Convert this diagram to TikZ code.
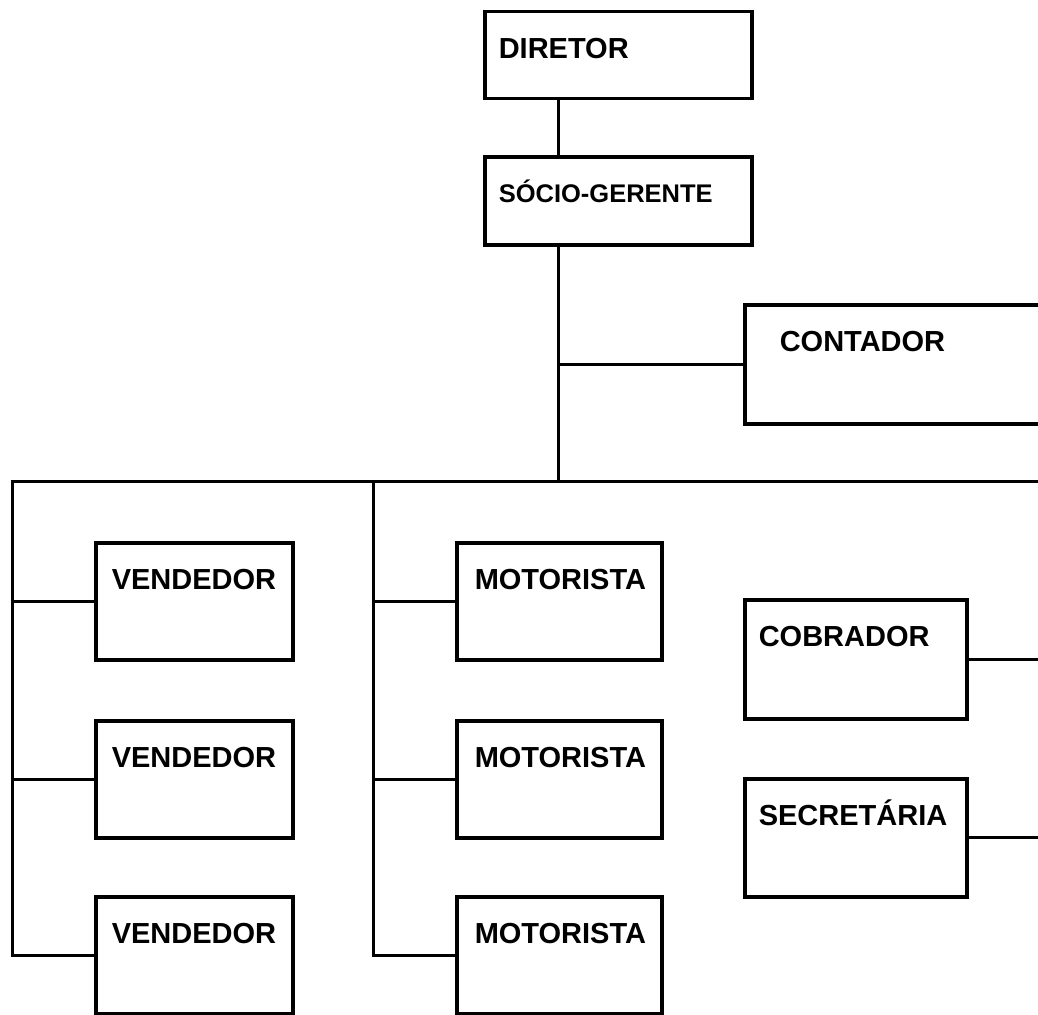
\documentclass[tikz,border=0pt]{standalone}
\usepackage{fontspec}
\setmainfont{Liberation Sans}
\begin{document}
\begin{tikzpicture}[x=1pt,y=-1pt,
  orgbox/.style={draw, line width=3.5pt, anchor=north west, inner sep=0pt,
    align=left, font=\bfseries\fontsize{29}{34}\selectfont, text height=47pt},
  pad/.style={execute at begin node={\hspace*{#1pt}}},
  conn/.style={line width=3pt}]
\useasboundingbox (0,0) rectangle (1038,1014);
\fill[white] (0,0) rectangle (1038,1014);
\clip (0,0) rectangle (1038,1014);

% boxes
\node[orgbox, pad=14, text width=267pt, text depth=40pt] (dir) at (483,10) {DIRETOR};
\node[orgbox, pad=14, text width=267pt, text depth=42pt, text height=46pt,
      font=\bfseries\fontsize{25.5}{30}\selectfont] (soc) at (483,155) {SÓCIO-GERENTE};
\node[orgbox, pad=35, text width=330pt, text depth=72pt] (cont) at (743,303) {CONTADOR};

\node[orgbox, pad=16, text width=197pt, text depth=70pt] (v1) at (94,541) {VENDEDOR};
\node[orgbox, pad=16, text width=197pt, text depth=70pt] (v2) at (94,719) {VENDEDOR};
\node[orgbox, pad=16, text width=197pt, text depth=70pt] (v3) at (94,895) {VENDEDOR};

\node[orgbox, pad=18, text width=205pt, text depth=70pt] (m1) at (455,541) {MOTORISTA};
\node[orgbox, pad=18, text width=205pt, text depth=70pt] (m2) at (455,719) {MOTORISTA};
\node[orgbox, pad=18, text width=205pt, text depth=70pt] (m3) at (455,895) {MOTORISTA};

\node[orgbox, pad=14, text width=222pt, text depth=72pt] (cob) at (743,598) {COBRADOR};
\node[orgbox, pad=14, text width=222pt, text depth=71pt] (sec) at (743,777) {SECRETÁRIA};

% bus coordinates
\coordinate (bus) at (558,481);
\coordinate (busL) at (12,481);
\coordinate (busM) at (373,481);
\coordinate (busR) at (1050,481);

% connectors
\draw[conn] ([xshift=75pt]dir.south west) -- ([xshift=75pt]soc.north west);
\draw[conn] ([xshift=75pt]soc.south west) -- (bus);
\draw[conn] (cont.west) -- (cont.west -| bus);
\draw[conn] (busR) -- (busL) |- (v3.west);
\draw[conn] (v1.west -| busL) -- (v1.west);
\draw[conn] (v2.west -| busL) -- (v2.west);
\draw[conn] (busM) |- (m3.west);
\draw[conn] (m1.west -| busM) -- (m1.west);
\draw[conn] (m2.west -| busM) -- (m2.west);
\draw[conn] (cob.east) -- (cob.east -| busR);
\draw[conn] (sec.east) -- (sec.east -| busR);
\end{tikzpicture}
\end{document}
